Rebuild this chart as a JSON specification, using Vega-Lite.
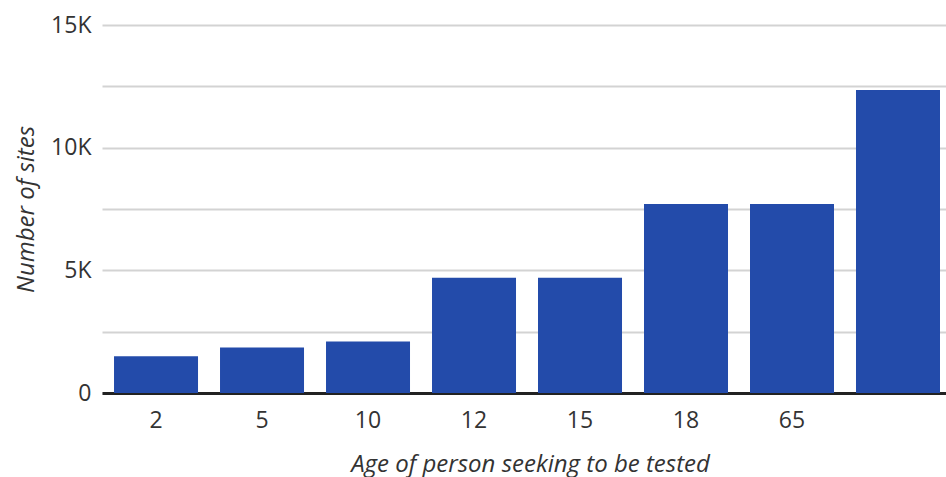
{
  "$schema": "https://vega.github.io/schema/vega-lite/v6.json",
  "autosize": "none",
  "padding": {"left": 102, "top": 25, "right": 0, "bottom": 84},
  "width": 844,
  "height": 368,
  "background": "white",
  "config": {
    "view": {"stroke": null},
    "font": "Open Sans"
  },
  "data": {
    "values": [
      {"age": "2", "sites": 1500},
      {"age": "5", "sites": 1850},
      {"age": "10", "sites": 2100},
      {"age": "12", "sites": 4700},
      {"age": "15", "sites": 4700},
      {"age": "18", "sites": 7700},
      {"age": "65", "sites": 7700},
      {"age": "", "sites": 12350}
    ]
  },
  "mark": {"type": "bar", "color": "#234BAA"},
  "encoding": {
    "x": {
      "field": "age",
      "type": "ordinal",
      "sort": null,
      "scale": {"paddingInner": 0.2075, "paddingOuter": 0.085, "align": 0.667},
      "axis": {
        "title": "Age of person seeking to be tested",
        "titleFont": "Open Sans",
        "titleFontStyle": "italic",
        "titleFontWeight": "normal",
        "titleFontSize": 24,
        "titleColor": "#333333",
        "titleX": 428,
        "titleY": 78,
        "titleBaseline": "alphabetic",
        "titleAlign": "center",
        "labelAngle": 0,
        "labelFontSize": 23,
        "labelColor": "#333333",
        "labelPadding": 16,
        "ticks": false,
        "domainColor": "#222222",
        "domainWidth": 3,
        "grid": false
      }
    },
    "y": {
      "field": "sites",
      "type": "quantitative",
      "scale": {"domain": [0, 15000], "nice": false},
      "axis": {
        "title": "Number of sites",
        "titleFont": "Open Sans",
        "titleFontStyle": "italic",
        "titleFontWeight": "normal",
        "titleFontSize": 24,
        "titleColor": "#333333",
        "titleAngle": -90,
        "titleX": -76,
        "titleY": 184,
        "titleAlign": "center",
        "titleBaseline": "middle",
        "values": [0, 2500, 5000, 7500, 10000, 12500, 15000],
        "labelExpr": "datum.value % 5000 == 0 ? (datum.value == 0 ? '0' : (datum.value / 1000) + 'K') : ''",
        "labelFontSize": 23,
        "labelColor": "#333333",
        "labelPadding": 11,
        "ticks": false,
        "domain": false,
        "grid": true,
        "gridColor": "#d3d3d3",
        "gridWidth": 2
      }
    }
  }
}
